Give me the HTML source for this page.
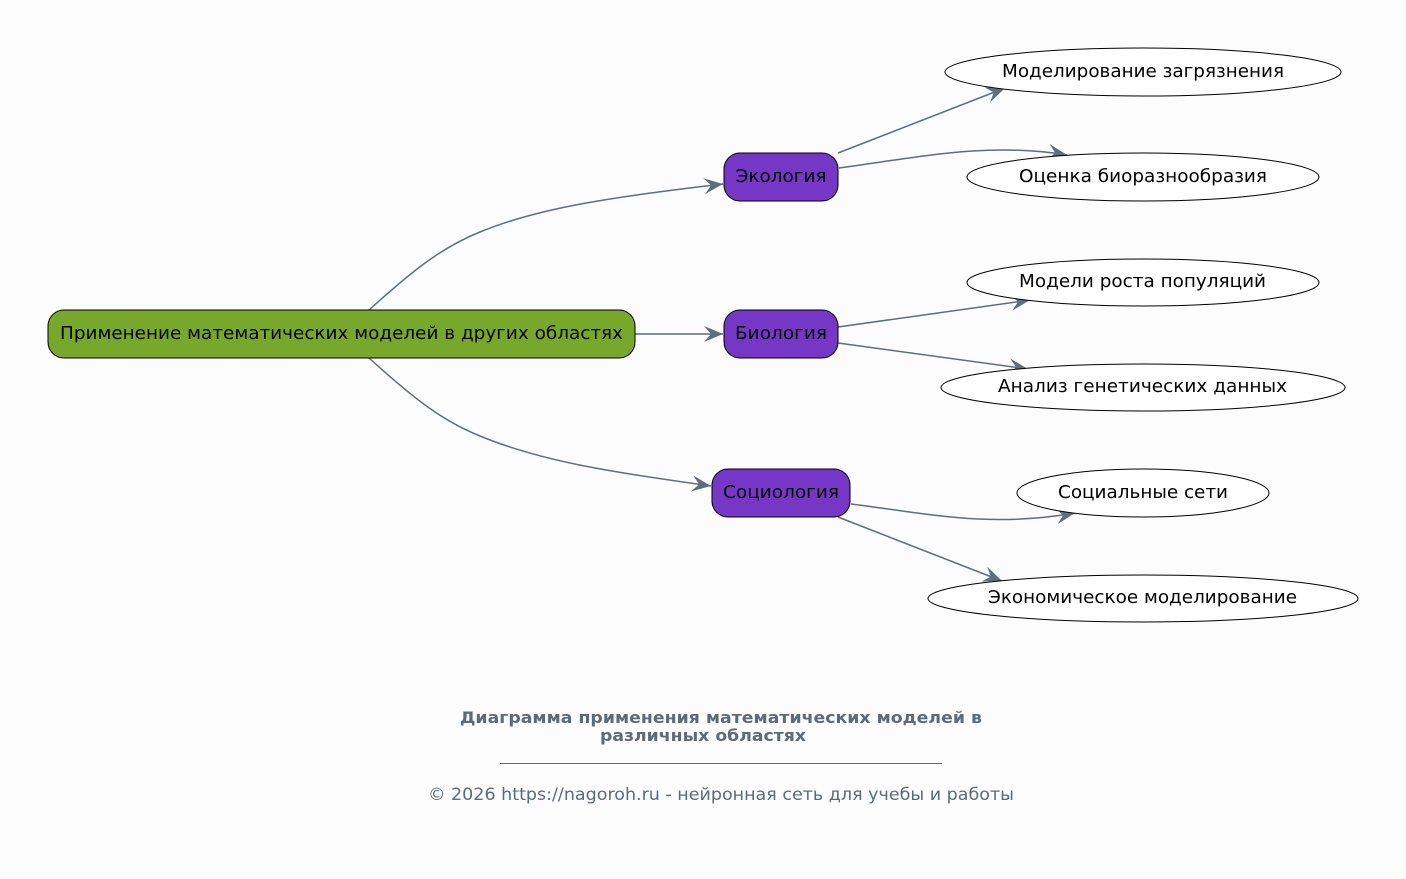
<!DOCTYPE html>
<html>
<head>
<meta charset="utf-8">
<style>
html,body{margin:0;padding:0;background:#fcfcfc;}
svg{display:block;}
text{font-family:"DejaVu Sans","Liberation Sans",sans-serif;}
</style>
</head>
<body>
<svg width="1406" height="879" viewBox="0 0 1406 879" xmlns="http://www.w3.org/2000/svg">
<defs>
<marker id="ah" markerUnits="userSpaceOnUse" markerWidth="22" markerHeight="18" viewBox="-19 -9 20 18" refX="0" refY="0" orient="auto">
<path d="M0,0 L-19,-8 L-12,0 L-19,8 Z" fill="#5f6d7d"/>
</marker>
</defs>
<rect width="1406" height="879" fill="#fcfcfc"/>

<g fill="none" stroke="#5f6d7d" stroke-width="1.5" marker-end="url(#ah)">
<path d="M369,310 C410,273 440,248 480,232 C540,207 620,196 723,184"/>
<path d="M635,334 L723,334"/>
<path d="M369,358 C410,395 440,420 480,436 C540,461 610,472 711,486"/>
<path d="M838,153 L1005,88"/>
<path d="M839,168 C920,157 990,142 1067,155"/>
<path d="M838,327 L1030,300"/>
<path d="M838,343 L1028,369"/>
<path d="M851,504 C930,514 990,528 1075,513"/>
<path d="M838,517 L1002,581"/>
</g>

<rect x="48" y="310" width="587" height="48" rx="16" ry="16" fill="#78a82b" stroke="#000" stroke-width="1"/>
<text x="341.5" y="339" font-size="18" text-anchor="middle" textLength="563" lengthAdjust="spacingAndGlyphs">Применение математических моделей в других областях</text>

<rect x="724" y="153" width="114" height="48" rx="16" ry="16" fill="#7636c6" stroke="#000" stroke-width="1"/>
<text x="781" y="182" font-size="18" text-anchor="middle" textLength="91" lengthAdjust="spacingAndGlyphs">Экология</text>

<rect x="724" y="310" width="114" height="48" rx="16" ry="16" fill="#7636c6" stroke="#000" stroke-width="1"/>
<text x="781" y="339" font-size="18" text-anchor="middle" textLength="92" lengthAdjust="spacingAndGlyphs">Биология</text>

<rect x="712" y="469" width="138" height="48" rx="16" ry="16" fill="#7636c6" stroke="#000" stroke-width="1"/>
<text x="781" y="498" font-size="18" text-anchor="middle" textLength="116" lengthAdjust="spacingAndGlyphs">Социология</text>

<g fill="#ffffff" stroke="#000" stroke-width="1">
<ellipse cx="1143" cy="72" rx="198" ry="24"/>
<ellipse cx="1143" cy="177" rx="176" ry="24"/>
<ellipse cx="1143" cy="282.5" rx="176" ry="23.5"/>
<ellipse cx="1143" cy="387.5" rx="202" ry="23.5"/>
<ellipse cx="1143" cy="493" rx="126" ry="24"/>
<ellipse cx="1143" cy="598.5" rx="215" ry="23.5"/>
</g>
<g font-size="18" text-anchor="middle">
<text x="1143" y="77" textLength="282" lengthAdjust="spacingAndGlyphs">Моделирование загрязнения</text>
<text x="1143" y="182" textLength="248" lengthAdjust="spacingAndGlyphs">Оценка биоразнообразия</text>
<text x="1142.5" y="287" textLength="247" lengthAdjust="spacingAndGlyphs">Модели роста популяций</text>
<text x="1142.5" y="392" textLength="289" lengthAdjust="spacingAndGlyphs">Анализ генетических данных</text>
<text x="1143" y="498" textLength="170" lengthAdjust="spacingAndGlyphs">Социальные сети</text>
<text x="1142.5" y="603" textLength="309" lengthAdjust="spacingAndGlyphs">Экономическое моделирование</text>
</g>

<g fill="#5c6b7c" text-anchor="middle">
<text x="721" y="723" font-size="16" font-weight="bold" textLength="522" lengthAdjust="spacingAndGlyphs">Диаграмма применения математических моделей в</text>
<text x="703" y="741" font-size="16" font-weight="bold" textLength="206" lengthAdjust="spacingAndGlyphs">различных областях</text>
<text x="721" y="800" font-size="17" textLength="586" lengthAdjust="spacingAndGlyphs">© 2026 https://nagoroh.ru - нейронная сеть для учебы и работы</text>
</g>
<line x1="500" y1="763.5" x2="942" y2="763.5" stroke="#5c6b7c" stroke-width="1"/>
</svg>
</body>
</html>
